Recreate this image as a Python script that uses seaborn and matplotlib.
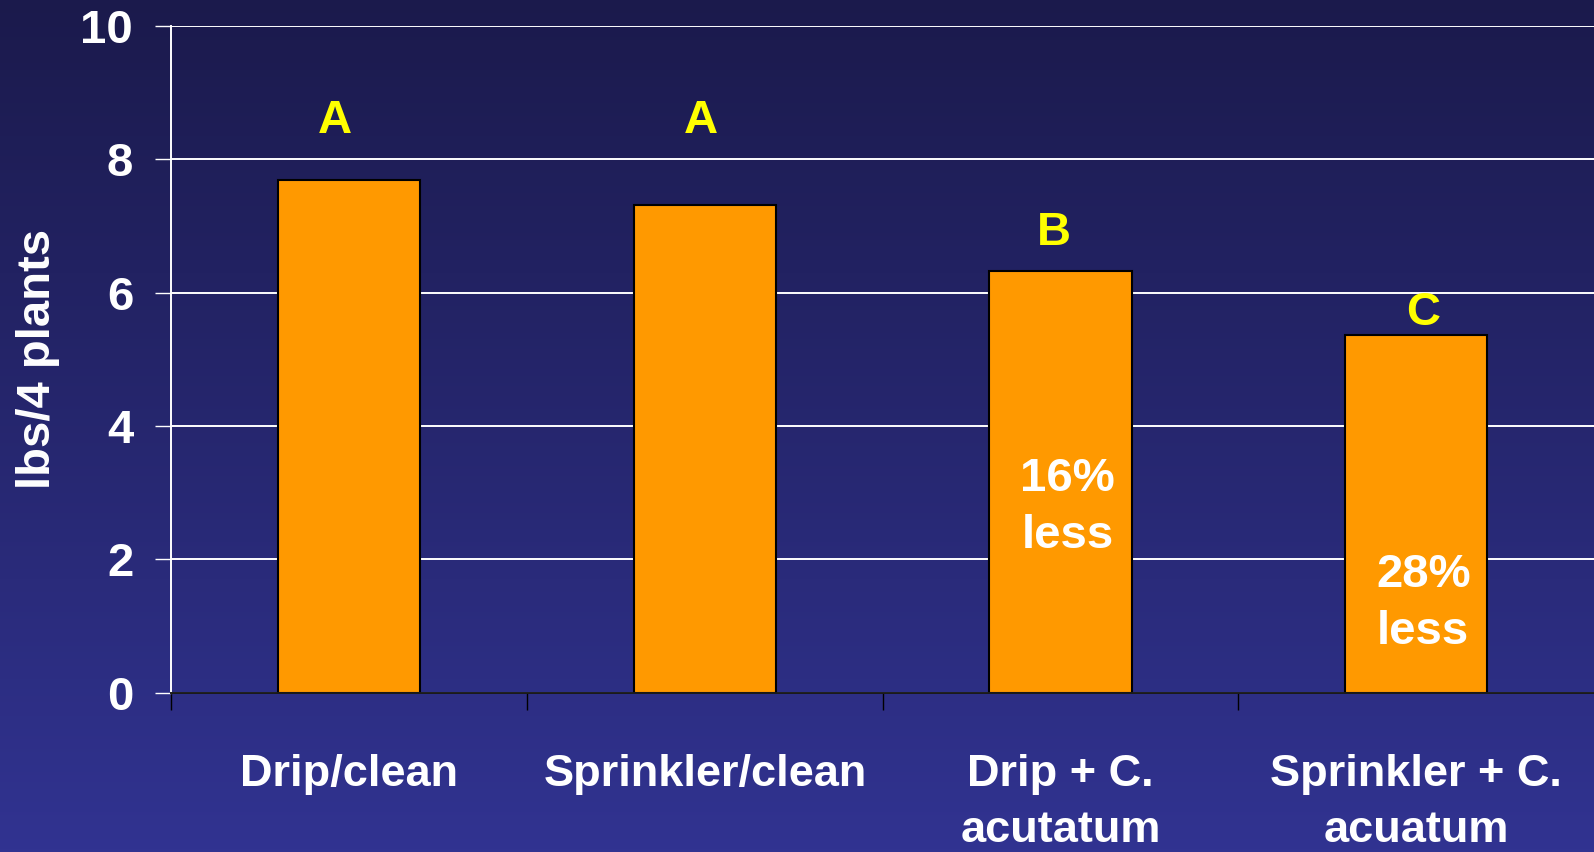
import numpy as np
import pandas as pd
import matplotlib
matplotlib.use("Agg")
import matplotlib.pyplot as plt
import seaborn as sns

# ---- data ----
categories = ["Drip/clean", "Sprinkler/clean", "Drip + C.\nacutatum", "Sprinkler + C.\nacuatum"]
yield_lbs = [7.69, 7.31, 6.32, 5.36]
sig_letters = ["A", "A", "B", "C"]
sig_letter_y = [8.58, 8.58, 6.90, 5.70]
reduction_notes = ["", "", "16%\nless", "28%\nless"]
reduction_note_y = [0, 0, 2.78, 1.34]
y_ticks = [0, 2, 4, 6, 8, 10]

sns.set_theme(style="white")
plt.rcParams["font.family"] = ["Liberation Sans", "DejaVu Sans"]
plt.rcParams["font.weight"] = "bold"

W, H = 1594, 852
fig = plt.figure(figsize=(W / 100, H / 100), dpi=100)

# gradient background
bg = fig.add_axes([0, 0, 1, 1], zorder=-10)
top = np.array([27, 26, 76]) / 255
bot = np.array([49, 51, 145]) / 255
t = np.linspace(0, 1, 256)[:, None]
grad = top[None, :] * (1 - t) + bot[None, :] * t
bg.imshow(grad[:, None, :].repeat(2, axis=1), aspect="auto", extent=[0, 1, 0, 1])
bg.set_axis_off()

ax = fig.add_axes([171.4 / W, (H - 692.8) / H, 1 - 171.4 / W, (692.8 - 25.9) / H])
ax.set_facecolor("none")

df = pd.DataFrame({"cat": categories, "val": yield_lbs})
sns.barplot(data=df, x="cat", y="val", color="#FF9900", edgecolor="black",
            linewidth=1.5, width=0.4, saturation=1, ax=ax, zorder=3)

ax.set_xlim(-0.5, 3.5)
ax.set_ylim(0, 10)
ax.set_yticks(y_ticks)
ax.set_yticklabels([str(v) for v in y_ticks])
ax.yaxis.grid(True, color="white", linewidth=1.4, zorder=0)
ax.set_axisbelow(True)

for s in ["top", "right"]:
    ax.spines[s].set_visible(False)
ax.spines["left"].set_color("white")
ax.spines["left"].set_linewidth(1.4)
ax.spines["bottom"].set_color("#1a1a1a")
ax.spines["bottom"].set_linewidth(1.4)
ax.spines["bottom"].set_zorder(4)

ax.tick_params(axis="y", which="major", left=True, length=11.5, width=1.0, color="white",
               pad=16, labelsize=34, labelcolor="white")
for lab in ax.get_yticklabels():
    lab.set_fontweight("bold")

# x: labels at centers, ticks at boundaries
ax.set_xticks(range(len(categories)))
ax.set_xticklabels(categories)
ax.tick_params(axis="x", which="major", bottom=True, length=0, pad=44, labelsize=32.5,
               labelcolor="white")
for lab in ax.get_xticklabels():
    lab.set_fontweight("bold")
    lab.set_linespacing(1.48)
ax.set_xticks([-0.5, 0.5, 1.5, 2.5], minor=True)
ax.tick_params(axis="x", which="minor", bottom=True, length=12, width=1.0, color="black")

ax.set_xlabel("")
ax.set_ylabel("lbs/4 plants", fontsize=34, fontweight="bold", color="white")
ax.yaxis.set_label_coords(-0.0935, 0.5)
ax.yaxis.label.set_verticalalignment("center")

# significance letters
for i, (lt, ly) in enumerate(zip(sig_letters, sig_letter_y)):
    dx = [-0.04, -0.01, -0.02, 0.02][i]
    ax.text(i + dx, ly, lt, ha="center", va="center", color="#FFFF00",
            fontsize=34, fontweight="bold", zorder=5)

# reduction notes
for i, (nt, ny) in enumerate(zip(reduction_notes, reduction_note_y)):
    if nt:
        ax.text(i + 0.02, ny, nt, ha="center", va="center", color="white",
                fontsize=34, fontweight="bold", linespacing=1.37, zorder=5)

fig.savefig("out.png", dpi=100)
